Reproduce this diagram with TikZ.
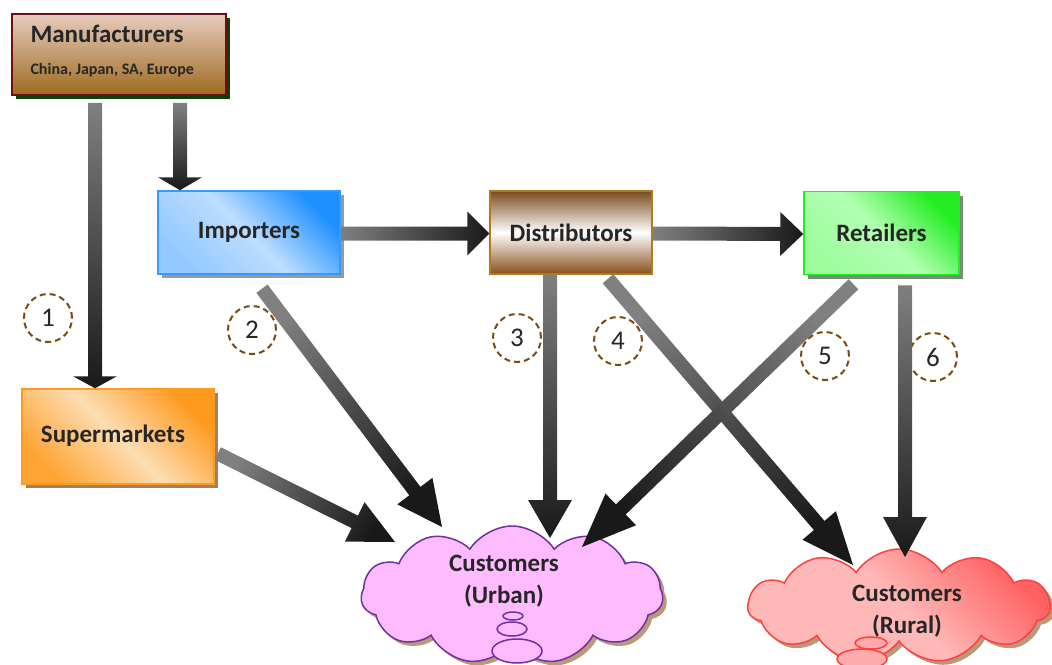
\documentclass[tikz,border=0pt]{standalone}
\usepackage{fontspec}
\setmainfont{Carlito}
\usetikzlibrary{calc}
\usetikzlibrary{positioning}
\usetikzlibrary{shadows}
\usetikzlibrary{shapes.symbols}
\definecolor{txtgray}{HTML}{262626}
\definecolor{mantop}{HTML}{E6CBBF}
\definecolor{manbot}{HTML}{9E6A1E}
\definecolor{manline}{HTML}{6E0F0F}
\definecolor{mangreen}{HTML}{0B3F0B}
\definecolor{impblue}{HTML}{1E8FFF}
\definecolor{implight}{HTML}{BCDDFF}
\definecolor{distbrown}{HTML}{7A4A1E}
\definecolor{distline}{HTML}{B07A20}
\definecolor{retgreen}{HTML}{22EE22}
\definecolor{retlight}{HTML}{B3FFB3}
\definecolor{suporange}{HTML}{FF9A1E}
\definecolor{suplight}{HTML}{FDDDB3}
\definecolor{urbfill}{HTML}{FFBBFF}
\definecolor{urbline}{HTML}{7030A0}
\definecolor{rurfill}{HTML}{FFB8B8}
\definecolor{rurdark}{HTML}{FF6060}
\definecolor{rurline}{HTML}{FF4040}
\definecolor{dashbrown}{HTML}{7B4A12}
\tikzset{box/.style = {draw, line width=1.5pt, inner sep=0,
                       font=\bfseries\fontsize{25}{28}\selectfont, text=txtgray}}
\tikzset{boxshadow/.style = {drop shadow={shadow xshift=4pt, shadow yshift=-4pt,
                                          fill=#1, opacity=1}}}
\tikzset{customers/.style = {cloud, cloud puffs=11, cloud puff arc=115, aspect=2.4,
                             line width=1.5pt, inner sep=0}}
\tikzset{cloudtext/.style = {align=center, font=\bfseries\fontsize{25}{32}\selectfont, text=txtgray}}
\tikzset{bubble/.style = {line width=1.5pt}}
\tikzset{numcirc/.style = {draw=dashbrown, dash pattern=on 6pt off 4pt, line width=2pt,
                           circle, minimum size=48, inner sep=0,
                           font=\fontsize{27}{27}\selectfont, text=txtgray}}
\tikzset{flowshade/.style = {top color=black!90, bottom color=black!50}}
\newcommand{\flowarrow}[3][40]{%
    \pgfmathanglebetweenpoints{\pgfpointanchor{#2}{center}}{\pgfpointanchor{#3}{center}}%
    \pgfmathsetmacro\flowang{\pgfmathresult-90}%
    \coordinate (fh) at ($(#3)!#1pt!(#2)$);
    \shade [flowshade, shading angle=\flowang]
        ($(#2)!7pt!90:(#3)$) -- ($(fh)!7pt!90:(#3)$) -- ($(fh)!22pt!90:(#3)$) -- (#3)
        -- ($(fh)!22pt!-90:(#3)$) -- ($(fh)!7pt!-90:(#3)$) -- ($(#2)!7pt!-90:(#3)$) -- cycle;
}

\begin{document}
\begin{tikzpicture}[x=1pt, y=-1pt]
    \useasboundingbox (0, 0) rectangle (1052, 664);

    % boxes
    \node [box, boxshadow=mangreen, draw=manline, top color=mantop, bottom color=manbot,
           minimum width=214, minimum height=81] (manuf) at (119, 54.5) {};
    \node [anchor=west, font=\bfseries\fontsize{25}{25}\selectfont, text=txtgray]
          (mtitle) at (27, 34) {Manufacturers};
    \node [anchor=west, font=\bfseries\fontsize{16}{16}\selectfont, text=txtgray]
          (msub) at (27, 70) {China, Japan, SA, Europe};
    \node [box, boxshadow=gray!80, draw=impblue!90, top color=impblue, bottom color=implight!75!impblue,
           middle color=implight, shading angle=-45,
           minimum width=182, minimum height=83] (imp) at (249, 232.5) {Importers};
    \node [box, draw=distline, top color=distbrown, bottom color=distbrown!90!orange, middle color=white,
           minimum width=162, minimum height=83] (dist) at (571, 232.5) {Distributors};
    \node [box, boxshadow=gray!75!green!60!black!70, draw=retgreen, top color=retgreen,
           bottom color=retlight!85!retgreen, middle color=retlight, shading angle=-45,
           minimum width=155, minimum height=83] (ret) at (881.5, 233) {Retailers};
    \node [box, boxshadow=brown!50!gray, draw=suporange, top color=suporange,
           bottom color=suporange!85!suplight, middle color=suplight, shading angle=-45,
           minimum width=192, minimum height=95] (superm) at (118, 436.5) {};
    \node [font=\bfseries\fontsize{25}{28}\selectfont, text=txtgray]
          (smtext) at (113, 436) {Supermarkets};

    % clouds
    \node [customers, boxshadow=brown!60!gray!80, draw=urbline, fill=urbfill,
           minimum width=302, minimum height=138] (urban) at (512, 595) {};
    \node [cloudtext] (urbantext) at (504, 581) {Customers\\(Urban)};
    \foreach \x/\y/\rx/\ry in {517/651/25/12, 512/629/15/7, 513/616/10/4} {
        \draw [bubble, draw=urbline, fill=urbfill] (\x, \y) ellipse (\rx pt and \ry pt);
    }
    \node [customers, boxshadow=brown!60!gray!80, draw=rurline, top color=rurdark, bottom color=rurfill,
           middle color=rurfill, shading angle=-45,
           minimum width=302, minimum height=114] (rural) at (899, 606) {};
    \node [cloudtext] (ruraltext) at (907, 611) {Customers\\(Rural)};
    \foreach \x/\y/\rx/\ry in {862/659/25/10, 871/643/16/6} {
        \draw [bubble, draw=rurline, fill=rurfill!85!rurdark] (\x, \y) ellipse (\rx pt and \ry pt);
    }

    % channel numbers
    \foreach \n/\x/\y in {1/48/318, 2/252/330, 3/517/338, 4/618/341, 5/825/356, 6/933/357} {
        \node [numcirc] (c\n) at (\x, \y) {\n};
    }

    % flows
    \coordinate (m1) at ([xshift=-24pt, yshift=-7pt]manuf.south);
    \coordinate (s1) at (m1 |- superm.north);
    \coordinate (m2) at ([xshift=61pt, yshift=-7pt]manuf.south);
    \coordinate (i2) at (m2 |- imp.north);
    \coordinate (i3) at ([yshift=-1pt]imp.east);
    \coordinate (d3) at ([yshift=-1pt]dist.west);
    \coordinate (d4) at ([yshift=-1pt]dist.east);
    \coordinate (r4) at ([yshift=-1pt]ret.west);
    \coordinate (i5) at ([xshift=13pt, yshift=-14pt]imp.south);
    \coordinate (u5) at (442, 527);
    \coordinate (s6) at ([xshift=3pt, yshift=-17pt]superm.east);
    \coordinate (u6) at (395, 542);
    \coordinate (d7) at ([xshift=-21pt]dist.south);
    \coordinate (u7) at (550, 538);
    \coordinate (d8) at ([xshift=37pt, yshift=-4pt]dist.south);
    \coordinate (r8) at (853, 565);
    \coordinate (r9) at ([xshift=-28pt, yshift=-9pt]ret.south);
    \coordinate (u9) at (582, 547);
    \coordinate (r10) at ([xshift=23.5pt, yshift=-10pt]ret.south);
    \coordinate (r10b) at (905, 557);

    \flowarrow[12]{m1}{s1}
    \flowarrow[13]{m2}{i2}
    \flowarrow[22]{i3}{d3}
    \flowarrow[23]{d4}{r4}
    \flowarrow[45]{i5}{u5}
    \flowarrow[45]{s6}{u6}
    \flowarrow[38]{d7}{u7}
    \flowarrow[52]{d8}{r8}
    \flowarrow[54]{r9}{u9}
    \flowarrow[40]{r10}{r10b}
\end{tikzpicture}
\end{document}
